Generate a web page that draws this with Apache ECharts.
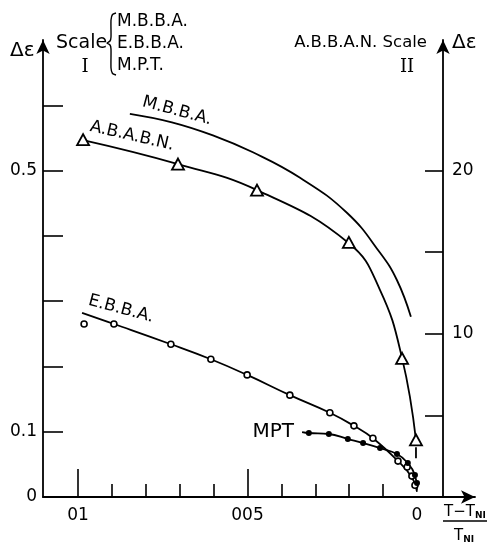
<!DOCTYPE html>
<html><head><meta charset="utf-8">
<script src="https://cdn.jsdelivr.net/npm/echarts@6/dist/echarts.min.js"></script>
<style>html,body{margin:0;padding:0;background:#fff}#c{width:488px;height:548px}</style>
</head><body><div id="c"></div>
<script>
// ---- data (x = (T-T_NI)/T_NI, Scale I values; A.B.A.B.N. on Scale II) ----
const mbbaCurve = [[0.0847,0.587],[0.0723,0.574],[0.0602,0.554],[0.0484,0.528],[0.0345,0.489],[0.0206,0.435],[0.0109,0.374],[0.0059,0.332],[0.0018,0.276]];
const ababnCurve = [[0.0985,21.86],[0.0705,20.39],[0.0472,18.80],[0.0201,15.55],[0.0109,12.68],[0.0044,8.51],[0.0003,3.49]];
const ababnPoints = [[0.0985,21.9],[0.0705,20.4],[0.0472,18.8],[0.0201,15.6],[0.0044,8.5],[0.0003,3.5]];
const ababnArrow = [[0.0003,3.05],[0.0003,2.38]];
const ebbaCurve = [[0.0988,0.282],[0.0894,0.265],[0.0726,0.234],[0.0608,0.211],[0.0501,0.187],[0.0375,0.156],[0.0257,0.129],[0.0186,0.109],[0.0130,0.090],[0.0056,0.055],[0.0015,0.030],[0.0,0.008]];
const ebbaPoints = [[0.0982,0.265],[0.0894,0.265],[0.0726,0.234],[0.0608,0.211],[0.0501,0.187],[0.0375,0.156],[0.0257,0.129],[0.0186,0.109],[0.0130,0.090],[0.0056,0.055],[0.0029,0.046],[0.0015,0.032],[0.0006,0.018]];
const mptCurve = [[0.0339,0.0995],[0.0319,0.098],[0.0260,0.0965],[0.0204,0.0888],[0.0159,0.0827],[0.0109,0.0750],[0.0059,0.0658],[0.0027,0.0521],[0.0006,0.0337],[0.0,0.011]];
const mptPoints = [[0.0319,0.098],[0.0260,0.0965],[0.0204,0.0888],[0.0159,0.0827],[0.0109,0.0750],[0.0059,0.0658],[0.0027,0.0521],[0.0006,0.0337],[0.0,0.0214]];
// ticks & labels
const xMajorTicks = [0.1, 0.05];
const xMinorTicks = [0.09,0.08,0.07,0.06,0.04,0.03,0.02,0.01];
const xLabelValues = [0.1, 0.05, 0];
const xLabelTexts = ['01', '005', '0'];
const leftTicks = [0.1,0.2,0.3,0.4,0.5,0.6];
const leftLabelValues = [0, 0.1, 0.5];
const leftLabelTexts = ['0', '0.1', '0.5'];
const rightTicks = [5,10,15,20];
const rightLabelValues = [10, 20];
const rightLabelTexts = ['10', '20'];

const FONT = 'DejaVu Sans';
function mapLabel(vals, texts){ return v => { for (let i=0;i<vals.length;i++){ if (Math.abs(v-vals[i])<1e-9) return texts[i]; } return ''; }; }

const chart = echarts.init(document.getElementById('c'), null, {renderer:'canvas'});
const lineStyle = {color:'#000', width:1.8};
const axisLineStyle = {color:'#000', width:1.8};
const curve = {type:'line', xAxisIndex:0, smooth:0.45, symbol:'none', showSymbol:false, lineStyle:lineStyle};
chart.setOption({
  animation:false,
  backgroundColor:'#fff',
  grid:{left:43, right:13, top:40, bottom:51},
  xAxis:[{
    type:'value', inverse:true, min:-0.01711, max:0.11032,
    axisLine:{show:true, onZero:false, lineStyle:axisLineStyle, symbol:['none','arrow'], symbolSize:[10,14]},
    axisTick:{show:true, inside:true, length:28, lineStyle:{color:'#000', width:1.6}, customValues:xMajorTicks},
    axisLabel:{show:true, customValues:xLabelValues, formatter:mapLabel(xLabelValues,xLabelTexts), color:'#000', fontFamily:FONT, fontSize:17, margin:10},
    splitLine:{show:false}
  },{
    type:'value', inverse:true, min:-0.01711, max:0.11032, position:'bottom', offset:0,
    axisLine:{show:false, onZero:false},
    axisTick:{show:true, inside:true, length:13, lineStyle:{color:'#000', width:1.6}, customValues:xMinorTicks},
    axisLabel:{show:false},
    splitLine:{show:false}
  }],
  yAxis:[{
    type:'value', min:0, max:0.7, position:'left',
    axisLine:{show:true, onZero:false, lineStyle:axisLineStyle, symbol:['none','arrow'], symbolSize:[10,14]},
    axisTick:{show:true, inside:true, length:20, lineStyle:{color:'#000', width:1.6}, customValues:leftTicks},
    axisLabel:{show:true, customValues:leftLabelValues, formatter:mapLabel(leftLabelValues,leftLabelTexts), color:'#000', fontFamily:FONT, fontSize:17, margin:6},
    splitLine:{show:false}
  },{
    type:'value', min:0, max:28, position:'right', offset:-32,
    axisLine:{show:true, onZero:false, lineStyle:axisLineStyle, symbol:['none','arrow'], symbolSize:[10,14]},
    axisTick:{show:true, inside:true, length:18, lineStyle:{color:'#000', width:1.6}, customValues:rightTicks},
    axisLabel:{show:true, customValues:rightLabelValues, formatter:mapLabel(rightLabelValues,rightLabelTexts), color:'#000', fontFamily:FONT, fontSize:17, margin:9},
    splitLine:{show:false}
  }],
  series:[
    Object.assign({name:'M.B.B.A.', yAxisIndex:0, data:mbbaCurve}, curve),
    Object.assign({name:'A.B.A.B.N. curve', yAxisIndex:1, data:ababnCurve}, curve),
    {name:'A.B.A.B.N.', type:'scatter', xAxisIndex:0, yAxisIndex:1, data:ababnPoints, symbol:'triangle', symbolSize:[12,11],
      itemStyle:{color:'#fff', borderColor:'#000', borderWidth:1.8, opacity:1}, z:5},
    {name:'arrow', type:'line', xAxisIndex:0, yAxisIndex:1, data:ababnArrow, symbol:'none', lineStyle:lineStyle},
    Object.assign({name:'E.B.B.A. curve', yAxisIndex:0, data:ebbaCurve}, curve),
    {name:'E.B.B.A.', type:'scatter', xAxisIndex:0, yAxisIndex:0, data:ebbaPoints, symbol:'circle', symbolSize:6,
      itemStyle:{color:'#fff', borderColor:'#000', borderWidth:1.6, opacity:1}, z:5},
    Object.assign({name:'M.P.T. curve', yAxisIndex:0, data:mptCurve}, curve),
    {name:'M.P.T.', type:'scatter', xAxisIndex:0, yAxisIndex:0, data:mptPoints, symbol:'circle', symbolSize:6,
      itemStyle:{color:'#000', opacity:1}, z:5}
  ],
  graphic:[
    {type:'text', x:10, y:51, style:{text:'Δε', font:'20px "'+FONT+'"', fill:'#000', textVerticalAlign:'middle'}},
    {type:'text', x:56, y:43, style:{text:'Scale', font:'19px "'+FONT+'"', fill:'#000', textVerticalAlign:'middle'}},
    {type:'text', x:85, y:67, style:{text:'I', font:'18px "DejaVu Serif"', fill:'#000', textAlign:'center', textVerticalAlign:'middle'}},
    {type:'polyline', shape:{points:[[116,13],[112.5,14.5],[111,20],[111,37],[110,41],[107,43],[110,45],[111,49],[111,68],[112.5,73.5],[116,75]], smooth:0.2}, style:{stroke:'#000', lineWidth:1.4, fill:null}},
    {type:'text', x:117, y:22, style:{text:'M.B.B.A.', font:'17px "'+FONT+'"', fill:'#000', textVerticalAlign:'middle'}},
    {type:'text', x:117, y:44, style:{text:'E.B.B.A.', font:'17px "'+FONT+'"', fill:'#000', textVerticalAlign:'middle'}},
    {type:'text', x:117, y:66, style:{text:'M.P.T.', font:'17px "'+FONT+'"', fill:'#000', textVerticalAlign:'middle'}},
    {type:'text', x:427, y:43, style:{text:'A.B.B.A.N. Scale', font:'16.5px "'+FONT+'"', fill:'#000', textAlign:'right', textVerticalAlign:'middle'}},
    {type:'text', x:407, y:67, style:{text:'II', font:'18px "DejaVu Serif"', fill:'#000', textAlign:'center', textVerticalAlign:'middle'}},
    {type:'text', x:452, y:43, style:{text:'Δε', font:'20px "'+FONT+'"', fill:'#000', textVerticalAlign:'middle'}},
    {type:'text', x:177, y:111, rotation:-15*Math.PI/180, style:{text:'M.B.B.A.', font:'17px "'+FONT+'"', fill:'#000', textAlign:'center', textVerticalAlign:'middle'}},
    {type:'text', x:132, y:136, rotation:-13*Math.PI/180, style:{text:'A.B.A.B.N.', font:'17px "'+FONT+'"', fill:'#000', textAlign:'center', textVerticalAlign:'middle'}},
    {type:'text', x:121, y:309, rotation:-15*Math.PI/180, style:{text:'E.B.B.A.', font:'17px "'+FONT+'"', fill:'#000', textAlign:'center', textVerticalAlign:'middle'}},
    {type:'text', x:294, y:432, style:{text:'MPT', font:'20px "'+FONT+'"', fill:'#000', textAlign:'right', textVerticalAlign:'middle'}},
    {type:'text', x:465, y:512, style:{text:'{a|T−T}{s|NI}', rich:{a:{font:'15px "'+FONT+'"', fill:'#000'}, s:{font:'bold 9px "'+FONT+'"', fill:'#000', padding:[7,0,0,0]}}, textAlign:'center', textVerticalAlign:'middle'}},
    {type:'line', shape:{x1:443, y1:521, x2:487, y2:521}, style:{stroke:'#000', lineWidth:1.4}},
    {type:'text', x:464, y:536, style:{text:'{a|T}{s|NI}', rich:{a:{font:'15px "'+FONT+'"', fill:'#000'}, s:{font:'bold 9px "'+FONT+'"', fill:'#000', padding:[7,0,0,0]}}, textAlign:'center', textVerticalAlign:'middle'}}
  ]
});
</script></body></html>
